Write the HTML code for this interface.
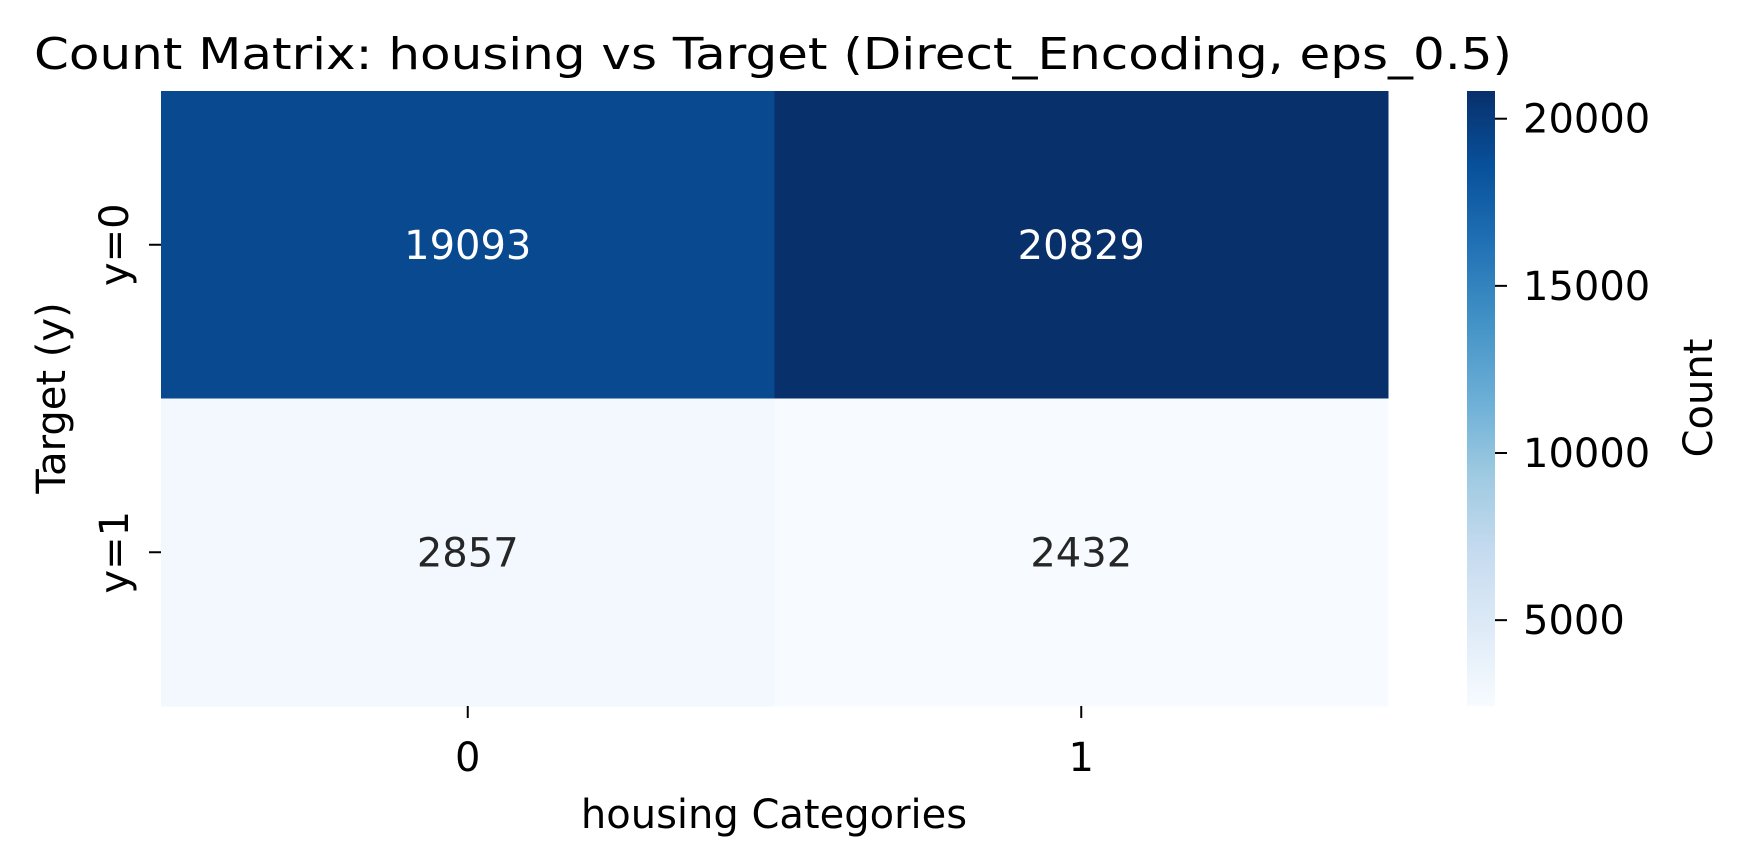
<!DOCTYPE html>
<html><head><meta charset="utf-8"><style>
html,body{margin:0;padding:0;background:#fff}
svg{display:block;font-family:"DejaVu Sans","Liberation Sans",sans-serif}
</style></head><body>
<svg id="chart" width="1745" height="866" viewBox="0 0 1745 866">
<text x="34" y="69" font-size="44" textLength="1478" lengthAdjust="spacingAndGlyphs" fill="#000">Count Matrix: housing vs Target (Direct_Encoding, eps_0.5)</text>
<g id="cells"></g>
<g id="axes"></g>
<defs><linearGradient id="cbgrad" x1="0" y1="1" x2="0" y2="0"></linearGradient></defs>
<rect id="cbar" x="1467" y="91" width="28" height="615" fill="url(#cbgrad)"/>
<text transform="translate(1712,398) rotate(-90)" text-anchor="middle" font-size="40" fill="#000">Count</text>
<text transform="translate(65,398) rotate(-90)" text-anchor="middle" font-size="40" fill="#000">Target (y)</text>
<text x="774" y="828" text-anchor="middle" font-size="40" fill="#000">housing Categories</text>
</svg>
<script>
const xCategories = ["0", "1"];
const yCategories = ["y=0", "y=1"];
const rowY0 = [19093, 20829];
const rowY1 = [2857, 2432];
const cbTicks = [5000, 10000, 15000, 20000];

const values = [rowY0, rowY1];
const NS = "http://www.w3.org/2000/svg";
const L = 161, R = 1388, T = 91, B = 706;
const cw = (R - L) / xCategories.length, ch = (B - T) / yCategories.length;
const all = values.flat();
const vmin = Math.min(...all), vmax = Math.max(...all);
const blues = ["#f7fbff","#deebf7","#c6dbef","#9ecae1","#6baed6","#4292c6","#2171b5","#08519c","#08306b"];
function hex(h){return [1,3,5].map(i=>parseInt(h.substr(i,2),16));}
function cmap(t){t=Math.max(0,Math.min(1,t));const p=t*8,i=Math.min(7,Math.floor(p)),f=p-i;
 const a=hex(blues[i]),b=hex(blues[i+1]);return "rgb("+a.map((v,k)=>Math.round(v+(b[k]-v)*f)).join(",")+")";}
function norm(v){return (v-vmin)/(vmax-vmin);}
function mk(tag,attrs,parent){const e=document.createElementNS(NS,tag);for(const k in attrs)e.setAttribute(k,attrs[k]);parent.appendChild(e);return e;}
const cells=document.getElementById("cells"), axes=document.getElementById("axes");
values.forEach((row,r)=>row.forEach((v,c)=>{
 const rect=mk("rect",{x:L+c*cw,y:T+r*ch,width:cw+0.5,height:ch+0.5,fill:cmap(norm(v))},cells);
 
 
 const t=mk("text",{x:L+(c+0.5)*cw,y:T+(r+0.5)*ch+14,"text-anchor":"middle","font-size":"40",fill:norm(v)>0.5?"#fff":"#262626"},cells);
 t.textContent=v;
 
 
}));
xCategories.forEach((c,i)=>{
 const x=L+(i+0.5)*cw;
 const tk=mk("line",{x1:x,x2:x,y1:B,y2:B+12,stroke:"#000","stroke-width":"2"},axes);
 
 
 const t=mk("text",{x:x,y:771,"text-anchor":"middle","font-size":"40",fill:"#000"},axes);
 t.textContent=c;
 
 
});
yCategories.forEach((c,i)=>{
 const y=T+(i+0.5)*ch;
 const tk=mk("line",{x1:L-12,x2:L,y1:y,y2:y,stroke:"#000","stroke-width":"2"},axes);
 
 
 const t=mk("text",{transform:"translate(128,"+y+") rotate(-90)","text-anchor":"middle","font-size":"40",fill:"#000"},axes);
 t.textContent=c;
 
 
});
const g=document.getElementById("cbgrad");
blues.forEach((col,i)=>mk("stop",{offset:(i/8*100)+"%","stop-color":col},g));
cbTicks.forEach(v=>{
 const y=B-norm(v)*(B-T);
 const tk=mk("line",{x1:1495,x2:1507,y1:y,y2:y,stroke:"#000","stroke-width":"2"},axes);
 
 
 const t=mk("text",{x:1523,y:y+14,"font-size":"40",fill:"#000"},axes);
 t.textContent=v;
 
 
});
</script>
</body></html>
